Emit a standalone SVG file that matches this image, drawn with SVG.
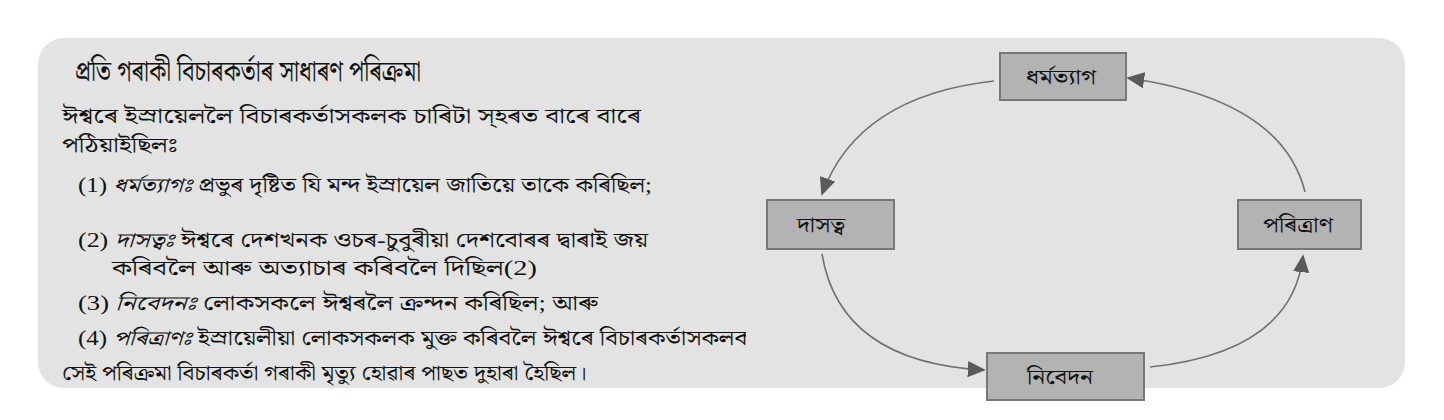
<svg xmlns="http://www.w3.org/2000/svg" width="1444" height="420" viewBox="0 0 1444 420">
<defs>
<style>
.t{font-family:"Liberation Serif","Noto Serif Bengali","Noto Sans Bengali","Lohit Assamese","Lohit Bengali",serif;fill:#111;font-size:20px}
.ttl{font-family:"Liberation Serif","Noto Serif Bengali","Noto Sans Bengali","Lohit Assamese","Lohit Bengali",serif;fill:#111;font-size:28px}
.i{font-style:italic}
.box{fill:#b3b3b3;stroke:#777;stroke-width:2}
.lbl{font-family:"Liberation Serif","Noto Serif Bengali","Noto Sans Bengali","Lohit Assamese","Lohit Bengali",serif;font-size:20px;fill:#111}
.c{fill:none;stroke:#707070;stroke-width:1.6}
</style>
<marker id="ah" viewBox="0 0 10 10" refX="9" refY="5" markerWidth="18" markerHeight="18" markerUnits="userSpaceOnUse" orient="auto">
<path d="M0,0.5 L10,5 L0,9.5 z" fill="#5a5a5a"/>
</marker>
<clipPath id="clip"><rect x="0" y="0" width="746" height="420"/></clipPath>
</defs>
<rect x="38" y="38" width="1367" height="350" rx="26" fill="#e3e3e3"/>
<g id="text" clip-path="url(#clip)">
<text class="ttl" x="75" y="81" textLength="346" lengthAdjust="spacingAndGlyphs">প্ৰতি গৰাকী বিচাৰকৰ্তাৰ সাধাৰণ পৰিক্ৰমা</text>
<text class="t" x="62" y="123" textLength="579" lengthAdjust="spacingAndGlyphs">ঈশ্বৰে ইস্ৰায়েললৈ বিচাৰকৰ্তাসকলক চাৰিটা স্হৰত বাৰে বাৰে</text>
<text class="t" x="62" y="152" textLength="116" lengthAdjust="spacingAndGlyphs">পঠিয়াইছিলঃ</text>
<text class="t" x="78" y="192" textLength="574" lengthAdjust="spacingAndGlyphs">(1) <tspan class="i">ধৰ্মত্যাগঃ</tspan> প্ৰভুৰ দৃষ্টিত যি মন্দ ইস্ৰায়েল জাতিয়ে তাকে কৰিছিল;</text>
<text class="t" x="78" y="247" textLength="570" lengthAdjust="spacingAndGlyphs">(2) <tspan class="i">দাসত্বঃ</tspan> ঈশ্বৰে দেশখনক ওচৰ-চুবুৰীয়া দেশবোৰৰ দ্বাৰাই জয়</text>
<text class="t" x="112" y="275" textLength="425" lengthAdjust="spacingAndGlyphs">কৰিবলৈ আৰু অত্যাচাৰ কৰিবলৈ দিছিল(2)</text>
<text class="t" x="78" y="310" textLength="520" lengthAdjust="spacingAndGlyphs">(3) <tspan class="i">নিবেদনঃ</tspan> লোকসকলে ঈশ্বৰলৈ ক্ৰন্দন কৰিছিল; আৰু</text>
<text class="t" x="78" y="345" textLength="674" lengthAdjust="spacingAndGlyphs">(4) <tspan class="i">পৰিত্ৰাণঃ</tspan> ইস্ৰায়েলীয়া লোকসকলক মুক্ত কৰিবলৈ ঈশ্বৰে বিচাৰকৰ্তাসকলক</text>
<text class="t" x="62" y="380" textLength="525" lengthAdjust="spacingAndGlyphs">সেই পৰিক্ৰমা বিচাৰকৰ্তা গৰাকী মৃত্যু হোৱাৰ পাছত দুহাৰা হৈছিল।</text>
</g>
<g id="connectors">
<path class="c" d="M994,81 Q858,96 822,194" marker-end="url(#ah)"/>
<path class="c" d="M822,254 Q840,362 984,370" marker-end="url(#ah)"/>
<path class="c" d="M1150,367 Q1292,352 1303,256" marker-end="url(#ah)"/>
<path class="c" d="M1305,192 Q1282,100 1128,78" marker-end="url(#ah)"/>
</g>
<g id="n-dharmatyag">
<rect class="box" x="1000" y="53" width="126" height="47"/>
<text class="lbl" x="1026" y="84" textLength="70" lengthAdjust="spacingAndGlyphs">ধৰ্মত্যাগ</text>
</g>
<g id="n-dasatva">
<rect class="box" x="767" y="200" width="127" height="49"/>
<text class="lbl" x="797" y="232" textLength="48" lengthAdjust="spacingAndGlyphs">দাসত্ব</text>
</g>
<g id="n-paritran">
<rect class="box" x="1238" y="200" width="123" height="49"/>
<text class="lbl" x="1263" y="232" textLength="70" lengthAdjust="spacingAndGlyphs">পৰিত্ৰাণ</text>
</g>
<g id="n-nibedan">
<rect class="box" x="987" y="353" width="157" height="47"/>
<text class="lbl" x="1027" y="384" textLength="66" lengthAdjust="spacingAndGlyphs">নিবেদন</text>
</g>
</svg>
